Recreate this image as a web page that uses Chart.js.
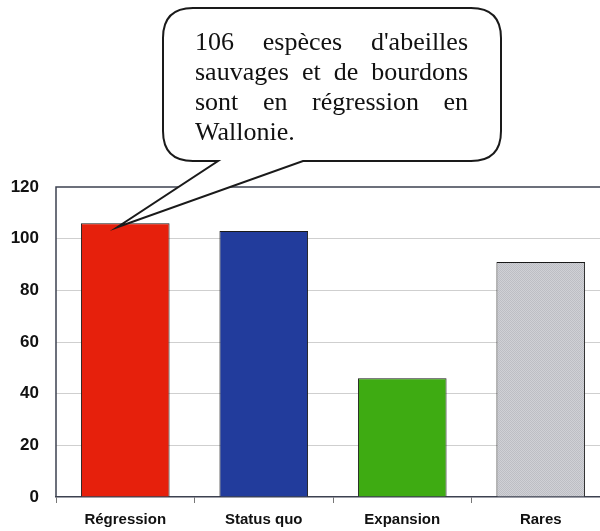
<!DOCTYPE html>
<html>
<head>
<meta charset="utf-8">
<script src="https://cdn.jsdelivr.net/npm/chart.js@4.4.0/dist/chart.umd.min.js"></script>
<style>
  html, body { margin: 0; padding: 0; background: #fff; overflow: hidden; }
  #wrap { width: 612px; height: 531px; }
</style>
</head>
<body>
<div id="wrap"><canvas id="chart" width="612" height="531"></canvas></div>
<script>
const categories = ['Régression', 'Status quo', 'Expansion', 'Rares'];
const speciesCount = [106, 103, 46, 91];
const yTicks = [0, 20, 40, 60, 80, 100, 120];
const calloutLines = [
  "106 espèces d'abeilles",
  'sauvages et de bourdons',
  'sont en régression en',
  'Wallonie.'
];

// grey stippled fill for the "Rares" bar
const makeStipple = () => {
  const c = document.createElement('canvas');
  c.width = 2; c.height = 2;
  const g = c.getContext('2d');
  g.fillStyle = '#d0d1d6'; g.fillRect(0, 0, 2, 2);
  g.fillStyle = '#bdbec4'; g.fillRect(0, 0, 1, 1); g.fillRect(1, 1, 1, 1);
  return document.getElementById('chart').getContext('2d').createPattern(c, 'repeat');
};

const frameColor = '#3c4150';
const gridColor = '#cfcfcf';

const calloutPlugin = {
  id: 'callout',
  afterDraw(chart) {
    const ctx = chart.ctx;
    const bar = chart.getDatasetMeta(0).data[0];
    const tipX = bar.x - 8, tipY = bar.y + 4;
    const left = 163, right = 501, top = 8, bottom = 161, r = 30;
    const baseL = 218, baseR = 303;

    ctx.save();
    ctx.beginPath();
    ctx.moveTo(left + r, top);
    ctx.lineTo(right - r, top);
    ctx.quadraticCurveTo(right, top, right, top + r);
    ctx.lineTo(right, bottom - r);
    ctx.quadraticCurveTo(right, bottom, right - r, bottom);
    ctx.lineTo(baseR, bottom);
    ctx.lineTo(tipX, tipY);
    ctx.lineTo(baseL, bottom);
    ctx.lineTo(left + r, bottom);
    ctx.quadraticCurveTo(left, bottom, left, bottom - r);
    ctx.lineTo(left, top + r);
    ctx.quadraticCurveTo(left, top, left + r, top);
    ctx.closePath();
    ctx.fillStyle = '#fff';
    ctx.fill();
    ctx.lineWidth = 2;
    ctx.strokeStyle = '#1a1a1a';
    ctx.stroke();

    // justified text
    ctx.fillStyle = '#111';
    ctx.font = '26px "Liberation Serif", "Times New Roman", serif';
    ctx.textBaseline = 'alphabetic';
    ctx.textAlign = 'left';
    const tx0 = 195, tx1 = 468;
    calloutLines.forEach((line, i) => {
      const y = 50 + i * 30;
      const words = line.split(' ');
      if (i === calloutLines.length - 1 || words.length === 1) {
        ctx.fillText(line, tx0, y);
        return;
      }
      const widths = words.map(w => ctx.measureText(w).width);
      const total = widths.reduce((a, b) => a + b, 0);
      const gap = (tx1 - tx0 - total) / (words.length - 1);
      let x = tx0;
      words.forEach((w, j) => {
        ctx.fillText(w, x, y);
        x += widths[j] + gap;
      });
    });
    ctx.restore();
  }
};

const framePlugin = {
  id: 'frame',
  beforeDatasetsDraw(chart) {
    const { ctx, chartArea } = chart;
    ctx.save();
    ctx.strokeStyle = frameColor;
    ctx.lineWidth = 1.5;
    ctx.beginPath();
    ctx.moveTo(chartArea.left, chartArea.bottom);
    ctx.lineTo(chartArea.left, chartArea.top);
    ctx.lineTo(chartArea.right, chartArea.top);
    ctx.stroke();
    ctx.restore();
  }
};

new Chart(document.getElementById('chart'), {
  type: 'bar',
  data: {
    labels: categories,
    datasets: [{
      data: speciesCount,
      backgroundColor: ['#e6200c', '#223c9c', '#3eab12', makeStipple()],
      borderColor: '#1a1a1a',
      borderWidth: 1,
      categoryPercentage: 0.64,
      barPercentage: 1
    }]
  },
  options: {
    responsive: false,
    animation: false,
    layout: { padding: { top: 187, right: 2, left: 0, bottom: 0 } },
    plugins: { legend: { display: false }, tooltip: { enabled: false } },
    scales: {
      x: {
        grid: {
          offset: true,
          drawOnChartArea: false,
          drawTicks: true,
          tickLength: 6,
          color: '#777'
        },
        border: { display: true, color: frameColor, width: 1.5 },
        ticks: {
          color: '#111',
          padding: 8,
          font: { family: '"Liberation Sans", Arial, sans-serif', size: 15, weight: 'bold' }
        },
        afterFit(scale) { scale.height = 34; }
      },
      y: {
        min: 0,
        max: 120,
        afterBuildTicks(scale) { scale.ticks = yTicks.map(v => ({ value: v })); },
        grid: {
          drawTicks: false,
          color: ctx => (ctx.tick && (ctx.tick.value === 0 || ctx.tick.value === 120)) ? 'rgba(0,0,0,0)' : gridColor,
          lineWidth: 1
        },
        border: { display: false },
        ticks: {
          color: '#111',
          padding: 17,
          font: { family: '"Liberation Sans", Arial, sans-serif', size: 17, weight: 'bold' }
        },
        afterFit(scale) { scale.width = 56; }
      }
    }
  },
  plugins: [framePlugin, calloutPlugin]
});
</script>
</body>
</html>
